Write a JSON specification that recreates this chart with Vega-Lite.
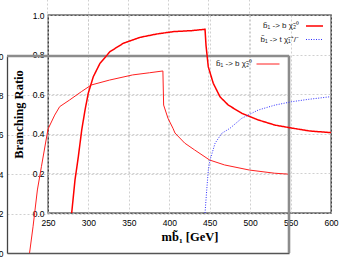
{
  "$schema": "https://vega.github.io/schema/vega-lite/v6.json",
  "width": 283,
  "height": 198,
  "autosize": {"type": "none"},
  "padding": {"left": 48, "top": 15, "right": 19, "bottom": 46},
  "background": "white",
  "config": {
    "view": {"stroke": "#222", "strokeWidth": 1.3},
    "font": "Liberation Sans",
    "axis": {
      "labelFont": "Liberation Sans",
      "labelFontSize": 8.5,
      "labelColor": "#000",
      "gridColor": "#c4c4c4",
      "gridDash": [2, 2],
      "gridWidth": 0.8,
      "ticks": false,
      "domain": false,
      "labelFlush": false,
      "labelOverlap": false
    },
    "axisY": {"labelOverlap": false},
    "axisLeft": {"labelOverlap": false},
    "legend": {
      "labelFont": "Liberation Sans",
      "labelFontSize": 8,
      "labelColor": "#222",
      "symbolType": "stroke",
      "padding": 0,
      "rowPadding": 0,
      "labelAlign": "right",
      "labelLimit": 200
    }
  },
  "datasets": {
    "curves": [
      {"plot": "back", "channel": "b\u0303\u2081 -> b \u03c7\u0303\u2082\u2070", "m": 228, "br": 0},
      {"plot": "back", "channel": "b\u0303\u2081 -> b \u03c7\u0303\u2082\u2070", "m": 232.3, "br": 0.133},
      {"plot": "back", "channel": "b\u0303\u2081 -> b \u03c7\u0303\u2082\u2070", "m": 237.7, "br": 0.32},
      {"plot": "back", "channel": "b\u0303\u2081 -> b \u03c7\u0303\u2082\u2070", "m": 242.7, "br": 0.438},
      {"plot": "back", "channel": "b\u0303\u2081 -> b \u03c7\u0303\u2082\u2070", "m": 250.9, "br": 0.629},
      {"plot": "back", "channel": "b\u0303\u2081 -> b \u03c7\u0303\u2082\u2070", "m": 259.2, "br": 0.7},
      {"plot": "back", "channel": "b\u0303\u2081 -> b \u03c7\u0303\u2082\u2070", "m": 265.4, "br": 0.743},
      {"plot": "back", "channel": "b\u0303\u2081 -> b \u03c7\u0303\u2082\u2070", "m": 277.8, "br": 0.777},
      {"plot": "back", "channel": "b\u0303\u2081 -> b \u03c7\u0303\u2082\u2070", "m": 292.3, "br": 0.819},
      {"plot": "back", "channel": "b\u0303\u2081 -> b \u03c7\u0303\u2082\u2070", "m": 304.7, "br": 0.853},
      {"plot": "back", "channel": "b\u0303\u2081 -> b \u03c7\u0303\u2082\u2070", "m": 327.4, "br": 0.878},
      {"plot": "back", "channel": "b\u0303\u2081 -> b \u03c7\u0303\u2082\u2070", "m": 356, "br": 0.904},
      {"plot": "back", "channel": "b\u0303\u2081 -> b \u03c7\u0303\u2082\u2070", "m": 377, "br": 0.915},
      {"plot": "back", "channel": "b\u0303\u2081 -> b \u03c7\u0303\u2082\u2070", "m": 393.5, "br": 0.924},
      {"plot": "back", "channel": "b\u0303\u2081 -> b \u03c7\u0303\u2082\u2070", "m": 394.4, "br": 0.751},
      {"plot": "back", "channel": "b\u0303\u2081 -> b \u03c7\u0303\u2082\u2070", "m": 399.8, "br": 0.684},
      {"plot": "back", "channel": "b\u0303\u2081 -> b \u03c7\u0303\u2082\u2070", "m": 406, "br": 0.633},
      {"plot": "back", "channel": "b\u0303\u2081 -> b \u03c7\u0303\u2082\u2070", "m": 408.5, "br": 0.609},
      {"plot": "back", "channel": "b\u0303\u2081 -> b \u03c7\u0303\u2082\u2070", "m": 420.5, "br": 0.558},
      {"plot": "back", "channel": "b\u0303\u2081 -> b \u03c7\u0303\u2082\u2070", "m": 432.9, "br": 0.523},
      {"plot": "back", "channel": "b\u0303\u2081 -> b \u03c7\u0303\u2082\u2070", "m": 451.5, "br": 0.472},
      {"plot": "back", "channel": "b\u0303\u2081 -> b \u03c7\u0303\u2082\u2070", "m": 470, "br": 0.447},
      {"plot": "back", "channel": "b\u0303\u2081 -> b \u03c7\u0303\u2082\u2070", "m": 501, "br": 0.421},
      {"plot": "back", "channel": "b\u0303\u2081 -> b \u03c7\u0303\u2082\u2070", "m": 532, "br": 0.405},
      {"plot": "back", "channel": "b\u0303\u2081 -> b \u03c7\u0303\u2082\u2070", "m": 550, "br": 0.4},
      {"plot": "front", "channel": "b\u0303\u2081 -> b \u03c7\u0303\u2082\u2070", "m": 279.3, "br": 0},
      {"plot": "front", "channel": "b\u0303\u2081 -> b \u03c7\u0303\u2082\u2070", "m": 283.4, "br": 0.167},
      {"plot": "front", "channel": "b\u0303\u2081 -> b \u03c7\u0303\u2082\u2070", "m": 287.5, "br": 0.284},
      {"plot": "front", "channel": "b\u0303\u2081 -> b \u03c7\u0303\u2082\u2070", "m": 291.7, "br": 0.419},
      {"plot": "front", "channel": "b\u0303\u2081 -> b \u03c7\u0303\u2082\u2070", "m": 295.8, "br": 0.52},
      {"plot": "front", "channel": "b\u0303\u2081 -> b \u03c7\u0303\u2082\u2070", "m": 299.8, "br": 0.605},
      {"plot": "front", "channel": "b\u0303\u2081 -> b \u03c7\u0303\u2082\u2070", "m": 306, "br": 0.688},
      {"plot": "front", "channel": "b\u0303\u2081 -> b \u03c7\u0303\u2082\u2070", "m": 314.3, "br": 0.756},
      {"plot": "front", "channel": "b\u0303\u2081 -> b \u03c7\u0303\u2082\u2070", "m": 326.7, "br": 0.815},
      {"plot": "front", "channel": "b\u0303\u2081 -> b \u03c7\u0303\u2082\u2070", "m": 343.1, "br": 0.857},
      {"plot": "front", "channel": "b\u0303\u2081 -> b \u03c7\u0303\u2082\u2070", "m": 363.8, "br": 0.887},
      {"plot": "front", "channel": "b\u0303\u2081 -> b \u03c7\u0303\u2082\u2070", "m": 384.4, "br": 0.904},
      {"plot": "front", "channel": "b\u0303\u2081 -> b \u03c7\u0303\u2082\u2070", "m": 405, "br": 0.916},
      {"plot": "front", "channel": "b\u0303\u2081 -> b \u03c7\u0303\u2082\u2070", "m": 427.7, "br": 0.921},
      {"plot": "front", "channel": "b\u0303\u2081 -> b \u03c7\u0303\u2082\u2070", "m": 444.2, "br": 0.928},
      {"plot": "front", "channel": "b\u0303\u2081 -> b \u03c7\u0303\u2082\u2070", "m": 445.4, "br": 0.848},
      {"plot": "front", "channel": "b\u0303\u2081 -> b \u03c7\u0303\u2082\u2070", "m": 448.2, "br": 0.739},
      {"plot": "front", "channel": "b\u0303\u2081 -> b \u03c7\u0303\u2082\u2070", "m": 454.4, "br": 0.655},
      {"plot": "front", "channel": "b\u0303\u2081 -> b \u03c7\u0303\u2082\u2070", "m": 462.7, "br": 0.587},
      {"plot": "front", "channel": "b\u0303\u2081 -> b \u03c7\u0303\u2082\u2070", "m": 473, "br": 0.545},
      {"plot": "front", "channel": "b\u0303\u2081 -> b \u03c7\u0303\u2082\u2070", "m": 489.5, "br": 0.504},
      {"plot": "front", "channel": "b\u0303\u2081 -> b \u03c7\u0303\u2082\u2070", "m": 510, "br": 0.47},
      {"plot": "front", "channel": "b\u0303\u2081 -> b \u03c7\u0303\u2082\u2070", "m": 530.7, "br": 0.444},
      {"plot": "front", "channel": "b\u0303\u2081 -> b \u03c7\u0303\u2082\u2070", "m": 551.4, "br": 0.429},
      {"plot": "front", "channel": "b\u0303\u2081 -> b \u03c7\u0303\u2082\u2070", "m": 574, "br": 0.414},
      {"plot": "front", "channel": "b\u0303\u2081 -> b \u03c7\u0303\u2082\u2070", "m": 600, "br": 0.406},
      {"plot": "front", "channel": "b\u0303\u2081 -> t \u03c7\u0303\u2081\u207a/\u207b", "m": 444.2, "br": 0},
      {"plot": "front", "channel": "b\u0303\u2081 -> t \u03c7\u0303\u2081\u207a/\u207b", "m": 446.3, "br": 0.116},
      {"plot": "front", "channel": "b\u0303\u2081 -> t \u03c7\u0303\u2081\u207a/\u207b", "m": 448.3, "br": 0.217},
      {"plot": "front", "channel": "b\u0303\u2081 -> t \u03c7\u0303\u2081\u207a/\u207b", "m": 450.4, "br": 0.268},
      {"plot": "front", "channel": "b\u0303\u2081 -> t \u03c7\u0303\u2081\u207a/\u207b", "m": 456.6, "br": 0.352},
      {"plot": "front", "channel": "b\u0303\u2081 -> t \u03c7\u0303\u2081\u207a/\u207b", "m": 464.8, "br": 0.402},
      {"plot": "front", "channel": "b\u0303\u2081 -> t \u03c7\u0303\u2081\u207a/\u207b", "m": 475.1, "br": 0.428},
      {"plot": "front", "channel": "b\u0303\u2081 -> t \u03c7\u0303\u2081\u207a/\u207b", "m": 489.5, "br": 0.478},
      {"plot": "front", "channel": "b\u0303\u2081 -> t \u03c7\u0303\u2081\u207a/\u207b", "m": 510, "br": 0.52},
      {"plot": "front", "channel": "b\u0303\u2081 -> t \u03c7\u0303\u2081\u207a/\u207b", "m": 530.7, "br": 0.545},
      {"plot": "front", "channel": "b\u0303\u2081 -> t \u03c7\u0303\u2081\u207a/\u207b", "m": 551.4, "br": 0.562},
      {"plot": "front", "channel": "b\u0303\u2081 -> t \u03c7\u0303\u2081\u207a/\u207b", "m": 572, "br": 0.574},
      {"plot": "front", "channel": "b\u0303\u2081 -> t \u03c7\u0303\u2081\u207a/\u207b", "m": 598.7, "br": 0.587}
    ]
  },
  "data": {"name": "curves"},
  "layer": [
    {
      "layer": [
        {
          "transform": [{"filter": "datum.plot === 'back'"}],
          "mark": {"type": "line", "strokeWidth": 1},
          "encoding": {
            "x": {
              "field": "m", "type": "quantitative",
              "scale": {"domain": [200, 550], "range": [-41, 241], "nice": false, "zero": false},
              "axis": {"orient": "bottom", "offset": 40, "labels": false, "grid": true, "values": [250, 300, 350, 400, 450, 500], "domain": true, "domainColor": "#555", "domainWidth": 1.3, "title": null}
            },
            "y": {
              "field": "br", "type": "quantitative",
              "scale": {"domain": [0, 1], "range": [238, 41], "nice": false, "zero": false},
              "axis": {"orient": "left", "offset": 41, "values": [0, 0.2, 0.4, 0.6, 0.8, 1], "labelOverlap": false, "labelSeparation": -50, "tickCount": 6, "grid": true, "domain": true, "domainColor": "#444", "domainWidth": 1.3, "labelPadding": 4, "title": null}
            },
            "color": {
              "field": "channel", "type": "nominal",
              "scale": {"range": ["#ff2020"]},
              "legend": {"orient": "none", "legendX": 208, "legendY": 37, "title": null, "symbolSize": 529, "symbolStrokeWidth": 1, "labelOffset": -28}
            }
          }
        },
        {
          "data": {"values": [{}]},
          "mark": {"type": "rule", "color": "#8c8c8c", "strokeWidth": 2.6},
          "encoding": {"x": {"datum": 200}, "x2": {"datum": 550}, "y": {"datum": 1}}
        },
        {
          "data": {"values": [{}]},
          "mark": {"type": "rule", "color": "#8c8c8c", "strokeWidth": 2.6},
          "encoding": {"x": {"datum": 550}, "y": {"datum": 0}, "y2": {"datum": 1}}
        }
      ]
    },
    {
      "transform": [{"filter": "datum.plot === 'front'"}],
      "mark": {"type": "line"},
      "encoding": {
        "x": {
          "field": "m", "type": "quantitative",
          "scale": {"domain": [250, 600], "nice": false, "zero": false},
          "axis": {"orient": "bottom", "values": [250, 300, 350, 400, 450, 500, 550, 600], "grid": true, "labelPadding": 5, "title": "mb\u0303\u2081 [GeV]", "titleFont": "Liberation Serif", "titleFontSize": 12.5, "titleFontWeight": "bold", "titleColor": "#000", "titlePadding": 4}
        },
        "y": {
          "field": "br", "type": "quantitative",
          "scale": {"domain": [0, 1], "nice": false, "zero": false},
          "axis": {"orient": "left", "values": [0, 0.2, 0.4, 0.6, 0.8, 1], "grid": true, "labelPadding": 4, "title": "Branching Ratio", "titleFont": "Liberation Serif", "titleFontSize": 12.5, "titleFontWeight": "bold", "titleColor": "#000", "titlePadding": 7}
        },
        "color": {
          "field": "channel", "type": "nominal",
          "scale": {"domain": ["b\u0303\u2081 -> b \u03c7\u0303\u2082\u2070", "b\u0303\u2081 -> t \u03c7\u0303\u2081\u207a/\u207b"], "range": ["#ff0000", "#3030ff"]},
          "legend": {"orient": "none", "legendX": 257, "legendY": 1.5, "title": null, "symbolSize": 289, "labelOffset": -25}
        },
        "strokeDash": {
          "field": "channel", "type": "nominal",
          "scale": {"domain": ["b\u0303\u2081 -> b \u03c7\u0303\u2082\u2070", "b\u0303\u2081 -> t \u03c7\u0303\u2081\u207a/\u207b"], "range": [[1, 0], [1, 1.5]]},
          "legend": {"orient": "none", "legendX": 257, "legendY": 1.5, "title": null, "symbolSize": 289, "labelOffset": -25}
        },
        "strokeWidth": {
          "field": "channel", "type": "ordinal",
          "scale": {"domain": ["b\u0303\u2081 -> b \u03c7\u0303\u2082\u2070", "b\u0303\u2081 -> t \u03c7\u0303\u2081\u207a/\u207b"], "range": [1.5, 1]},
          "legend": {"orient": "none", "legendX": 257, "legendY": 1.5, "title": null, "symbolSize": 289, "labelOffset": -25}
        }
      }
    }
  ],
  "resolve": {
    "scale": {"x": "independent", "y": "independent", "color": "independent", "strokeDash": "independent", "strokeWidth": "independent"},
    "axis": {"x": "independent", "y": "independent"},
    "legend": {"color": "independent", "strokeDash": "independent", "strokeWidth": "independent"}
  }
}
